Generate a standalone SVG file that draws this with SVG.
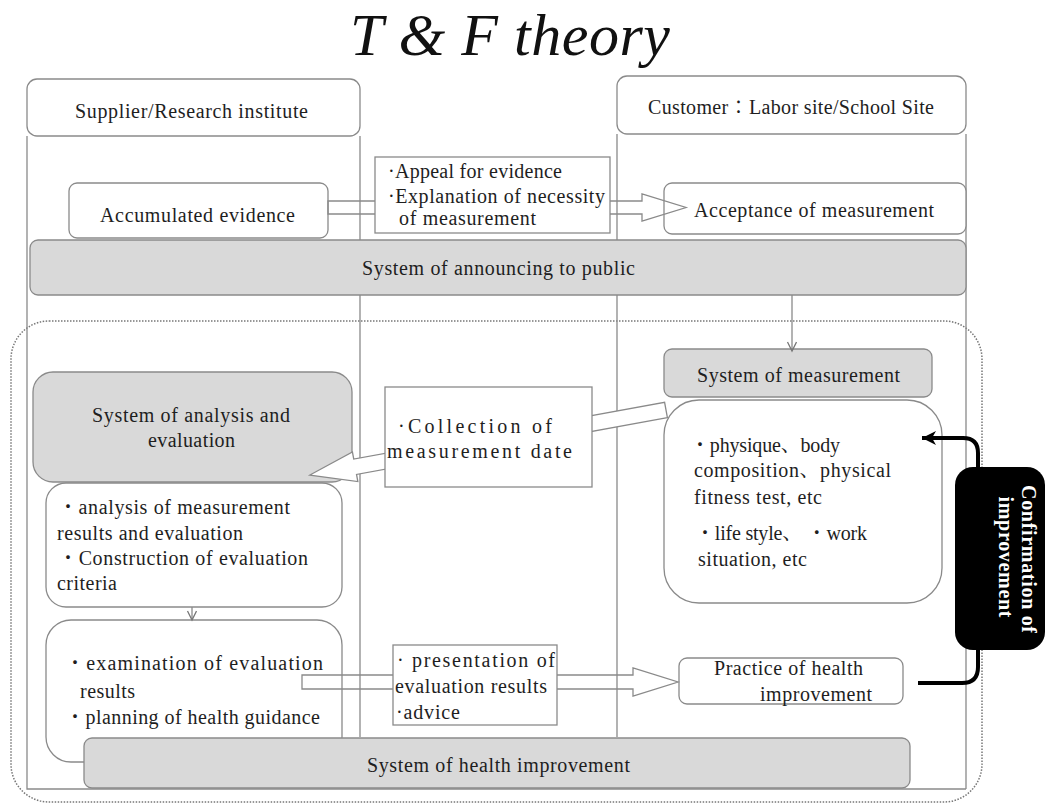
<svg xmlns="http://www.w3.org/2000/svg" width="1048" height="803" viewBox="0 0 1048 803">
<defs>
<style>
text{font-family:"Liberation Serif","Noto Serif CJK JP","Noto Sans CJK JP",serif;font-size:20px;fill:#1e1e1e}
.title{font-style:italic;font-size:60px;fill:#111}
.wb{fill:#fff;stroke:#8a8a8a;stroke-width:1.3}
.gb{fill:#d9d9d9;stroke:#8a8a8a;stroke-width:1.3}
.ln{fill:none;stroke:#8a8a8a;stroke-width:1.3}
.tb{fill:#fff;stroke:#8a8a8a;stroke-width:1.3}
.blk{fill:none;stroke:#000;stroke-width:4}
.wt{fill:#fff;font-weight:bold;font-size:20px}
</style>
<marker id="thin" markerUnits="userSpaceOnUse" markerWidth="12" markerHeight="12" refX="10" refY="5" orient="auto">
<path d="M1,0.5 L10,5 L1,9.5" fill="none" stroke="#777" stroke-width="1.3"/>
</marker>
<marker id="bh" markerUnits="userSpaceOnUse" markerWidth="16" markerHeight="16" refX="14" refY="7" orient="auto">
<path d="M0,0 L14,7 L0,14 L4,7 Z" fill="#000"/>
</marker>
</defs>
<rect width="1048" height="803" fill="#fff"/>

<text class="title" x="350" y="55" textLength="320">T &amp; F theory</text>

<g id="frame">
<rect x="11" y="321" width="971" height="481" rx="38" fill="none" stroke="#777" stroke-width="1.5" stroke-dasharray="1.5 1.5"/>
</g>

<g id="lane-supplier">
<path class="ln" d="M27 136 V789 H966 M360 136 V737"/>
<rect class="wb" x="27" y="79" width="333" height="57" rx="10"/>
<text x="75" y="118" textLength="233">Supplier/Research institute</text>
</g>
<g id="lane-customer">
<path class="ln" d="M617 134 V737 M966 134 V789"/>
<rect class="wb" x="617" y="76" width="349" height="58" rx="10"/>
<text x="648" y="114" textLength="286">Customer：Labor site/School Site</text>
</g>

<g id="accumulated">
<rect class="wb" x="69" y="183" width="259" height="55" rx="8"/>
<text x="100" y="222" textLength="195">Accumulated evidence</text>
</g>
<g id="acceptance">
<rect class="wb" x="664" y="183" width="302" height="51" rx="8"/>
<text x="694" y="217" textLength="240">Acceptance of measurement</text>
</g>

<g id="announcing">
<rect class="gb" x="30" y="240" width="936" height="55" rx="8"/>
<text x="362" y="275" textLength="273">System of announcing to public</text>
</g>

<g id="measurement">
<rect class="gb" x="664" y="349" width="268" height="48" rx="8"/>
<text x="697" y="382" textLength="203">System of measurement</text>
</g>
<g id="measurement-items">
<rect class="wb" x="664" y="400" width="278" height="203" rx="35"/>
<text x="690" y="452" textLength="150">・physique、body</text>
<text x="694" y="477" textLength="197">composition、physical</text>
<text x="694" y="504" textLength="128">fitness test, etc</text>
<text x="695" y="540" textLength="172">・life style、 ・work</text>
<text x="698" y="566" textLength="109">situation, etc</text>
</g>

<g id="analysis">
<rect class="gb" x="33" y="372" width="319" height="110" rx="20"/>
<text x="92" y="422" textLength="198">System of analysis and</text>
<text x="148" y="447" textLength="87">evaluation</text>
</g>

<g id="analysis-items">
<rect class="wb" x="46" y="483" width="296" height="124" rx="20"/>
<text x="58" y="514" textLength="232">・analysis of measurement</text>
<text x="57" y="540" textLength="186">results and evaluation</text>
<text x="58" y="565" textLength="250">・Construction of evaluation</text>
<text x="57" y="590" textLength="60">criteria</text>
</g>

<g id="examination">
<rect class="wb" x="46" y="620" width="296" height="142" rx="25"/>
<text x="65" y="670" textLength="258">・examination of evaluation</text>
<text x="80" y="698" textLength="55">results</text>
<text x="65" y="724" textLength="255">・planning of health guidance</text>
</g>

<g id="practice">
<rect class="wb" x="679" y="658" width="224" height="46" rx="8"/>
<text x="714" y="675" textLength="149">Practice of health</text>
<text x="760" y="701" textLength="112">improvement</text>
</g>

<g id="health-improvement">
<rect class="gb" x="84" y="738" width="826" height="50" rx="8"/>
<text x="367" y="772" textLength="263">System of health improvement</text>
</g>

<g id="block-arrows">
<path class="ln" d="M328 201 H642 V194 L686 207.5 L642 221 V214 H328 Z"/>
<path class="ln" d="M302 675 H633 V668 L678 682 L633 696 V689 H302 Z"/>
<polygon transform="translate(666 410) rotate(169.65)" points="0,-7.8 316,-7.8 316,-15 362,0 316,15 316,7.8 0,7.8" fill="#fff" stroke="#8a8a8a" stroke-width="1.3"/>
</g>

<g id="appeal">
<rect class="tb" x="375" y="157" width="235" height="76"/>
<text x="388" y="178" textLength="174">·Appeal for evidence</text>
<text x="388" y="203" textLength="217">·Explanation of necessity</text>
<text x="399" y="225" textLength="137">of measurement</text>
</g>

<g id="collection">
<rect class="tb" x="385" y="387" width="207" height="100"/>
<text x="398" y="433" textLength="154">·Collection of</text>
<text x="387" y="458" textLength="185">measurement date</text>
</g>

<g id="presentation">
<rect class="tb" x="393" y="645" width="164" height="80"/>
<text x="397" y="667" textLength="158">·  presentation  of</text>
<text x="395" y="693" textLength="152">evaluation results</text>
<text x="396" y="719" textLength="64">·advice</text>
</g>

<g id="confirmation">
<rect x="955" y="467" width="90" height="183" rx="18" fill="#000"/>
<text class="wt" transform="translate(1022 559) rotate(90)" text-anchor="middle" textLength="148">Confirmation of</text>
<text class="wt" transform="translate(999 557) rotate(90)" text-anchor="middle" textLength="121">improvement</text>
</g>

<g id="connectors">
<path d="M792 295 V351" class="ln" marker-end="url(#thin)"/>
<path d="M192 607 V620" class="ln" marker-end="url(#thin)"/>
<path class="blk" d="M918 683 H962 Q978 683 978 667 V650"/>
<path class="blk" d="M978 467 V453 Q978 438 963 438 H922" marker-end="url(#bh)"/>
</g>
</svg>
